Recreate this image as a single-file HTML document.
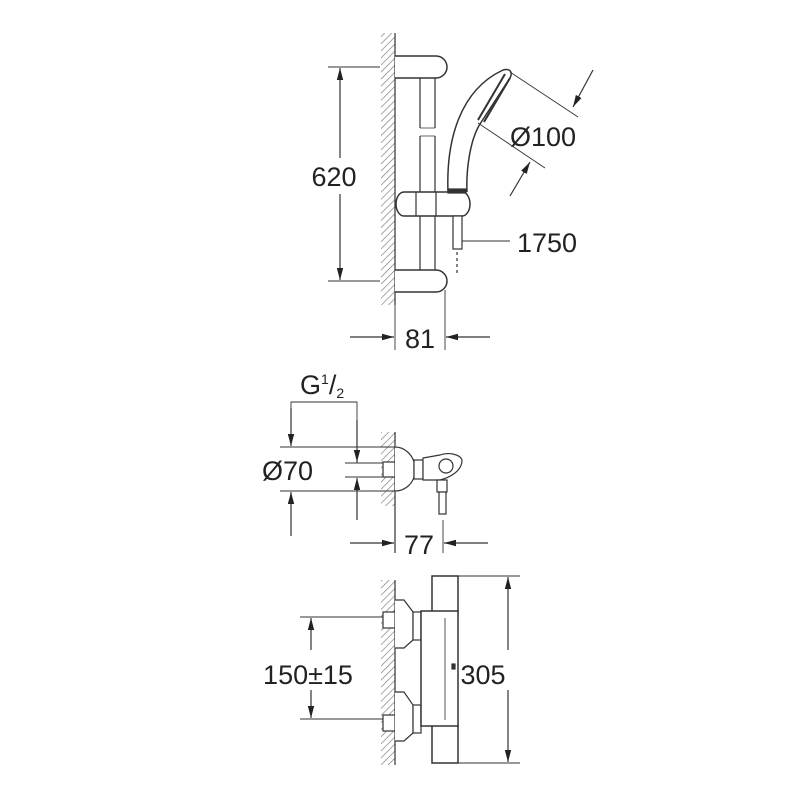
<!DOCTYPE html>
<html><head><meta charset="utf-8"><style>
html,body{margin:0;padding:0;background:#fff;width:800px;height:800px;overflow:hidden}
svg{display:block}
text{font-family:"Liberation Sans",sans-serif;fill:#222}
</style></head><body>
<svg width="800" height="800" viewBox="0 0 800 800">
<defs>
<pattern id="h" width="5" height="5" patternUnits="userSpaceOnUse" patternTransform="rotate(45)">
<line x1="0" y1="0" x2="0" y2="5" stroke="#777" stroke-width="1.3"/>
</pattern>
<marker id="a" viewBox="0 0 12 10" refX="12" refY="5" markerWidth="12" markerHeight="10" markerUnits="userSpaceOnUse" orient="auto-start-reverse">
<path d="M0,1.8 L12,5 L0,8.2 z" fill="#222"/>
</marker>
</defs>
<g stroke="#333" stroke-width="1.2" fill="none">
<!-- TOP -->
<rect x="381" y="33" width="14" height="272" fill="url(#h)" stroke="none"/>
<line x1="395" y1="33" x2="395" y2="305"/>
<path d="M395,56 H436 A11,11 0 0 1 436,78 H395" fill="#fff" stroke-width="1.5"/>
<path d="M395,270 H436 A11,11 0 0 1 436,292 H395" fill="#fff" stroke-width="1.5"/>
<line x1="420" y1="78" x2="420" y2="128"/><line x1="435" y1="78" x2="435" y2="128"/>
<line x1="420" y1="136" x2="420" y2="270"/><line x1="435" y1="136" x2="435" y2="270"/>
<path d="M420,128 H435 M420,136 H435" stroke-width="0.8"/>
<path d="M404,192 H462 A8,12 0 0 1 462,216 H404 A8,12 0 0 1 404,192 Z" fill="#fff" stroke-width="1.5"/>
<line x1="416" y1="192" x2="416" y2="216"/><line x1="436" y1="192" x2="436" y2="216"/>
<rect x="453" y="216" width="9" height="33" fill="#fff"/>
<line x1="457" y1="252" x2="457" y2="276" stroke-dasharray="3,3"/>
<path d="M448,192 C446,140 460,90 503,70 C510,68 513,72 510,78 L480,124 C470,140 466,170 467,192" fill="#fff" stroke-width="1.5"/>
<path d="M505,74 L478,120 M510,78 L484,122" stroke-width="2"/>
<rect x="448" y="189" width="18" height="4" fill="#333"/>
<line x1="510" y1="72" x2="578" y2="117" stroke-width="0.9"/>
<line x1="478" y1="123" x2="545" y2="168" stroke-width="0.9"/>
<line x1="593" y1="70" x2="573" y2="107" marker-end="url(#a)"/>
<line x1="510" y1="196" x2="530" y2="162" marker-end="url(#a)"/>
<line x1="462" y1="241" x2="510" y2="241" stroke-width="0.9"/>
<line x1="328" y1="67" x2="380" y2="67" stroke-width="0.9"/>
<line x1="328" y1="281" x2="380" y2="281" stroke-width="0.9"/>
<line x1="340" y1="158" x2="340" y2="68" marker-end="url(#a)"/>
<line x1="340" y1="194" x2="340" y2="280" marker-end="url(#a)"/>
<line x1="395" y1="305" x2="395" y2="350" stroke-width="0.9"/>
<line x1="445" y1="290" x2="445" y2="350" stroke-width="0.9"/>
<line x1="350" y1="337" x2="394" y2="337" marker-end="url(#a)"/>
<line x1="490" y1="337" x2="446" y2="337" marker-end="url(#a)"/>

<!-- MIDDLE -->
<rect x="381" y="432" width="14" height="74" fill="url(#h)" stroke="none"/>
<line x1="395" y1="432" x2="395" y2="553"/>
<rect x="383" y="462" width="12" height="15" fill="#fff"/>
<path d="M395,447 C405,447 412,455 414,462 V477 C412,484 405,491 395,491" fill="#fff"/>
<rect x="414" y="460" width="9" height="19" fill="#fff"/>
<path d="M423,458 L440,455 C448,452 460,454 462,460 C462,472 448,478 440,480 L423,480 Z" fill="#fff"/>
<circle cx="446" cy="466" r="7"/>
<rect x="437" y="480" width="10" height="12" fill="#fff"/>
<rect x="439" y="492" width="7" height="22" fill="#fff"/>
<line x1="443" y1="520" x2="443" y2="553" stroke-width="0.9"/>
<path d="M291,408 V402 H357 V463" stroke-width="0.9"/>
<line x1="357" y1="420" x2="357" y2="462" marker-end="url(#a)"/>
<line x1="357" y1="520" x2="357" y2="478" marker-end="url(#a)"/>
<line x1="345" y1="463" x2="383" y2="463" stroke-width="0.9"/>
<line x1="345" y1="477" x2="383" y2="477" stroke-width="0.9"/>
<line x1="280" y1="447" x2="395" y2="447" stroke-width="0.9"/>
<line x1="280" y1="491" x2="395" y2="491" stroke-width="0.9"/>
<line x1="291" y1="408" x2="291" y2="446" marker-end="url(#a)"/>
<line x1="291" y1="536" x2="291" y2="492" marker-end="url(#a)"/>
<line x1="350" y1="543" x2="394" y2="543" marker-end="url(#a)"/>
<line x1="488" y1="543" x2="444" y2="543" marker-end="url(#a)"/>

<!-- BOTTOM -->
<rect x="381" y="580" width="14" height="185" fill="url(#h)" stroke="none"/>
<line x1="395" y1="580" x2="395" y2="765"/>
<rect x="383" y="612" width="12" height="16" fill="#fff"/>
<rect x="383" y="715" width="12" height="16" fill="#fff"/>
<path d="M395,600 L404,600 L413,612 V640 L404,648 H395" fill="#fff"/>
<path d="M395,692 L404,692 L413,705 V733 L404,741 H395" fill="#fff"/>
<rect x="413" y="612" width="8" height="28" fill="#fff"/>
<rect x="413" y="705" width="8" height="28" fill="#fff"/>
<rect x="432" y="576" width="26" height="36" fill="#fff" stroke-width="1.5"/>
<rect x="432" y="725" width="26" height="38" fill="#fff" stroke-width="1.5"/>
<rect x="421" y="611" width="37" height="115" fill="#fff" stroke-width="1.5"/>
<line x1="445" y1="618" x2="445" y2="720" stroke="#aaa" stroke-width="2"/>
<rect x="452" y="664" width="3" height="5" fill="#333"/>
<line x1="300" y1="617" x2="383" y2="617" stroke-width="0.9"/>
<line x1="300" y1="719" x2="383" y2="719" stroke-width="0.9"/>
<line x1="311" y1="650" x2="311" y2="618" marker-end="url(#a)"/>
<line x1="311" y1="690" x2="311" y2="718" marker-end="url(#a)"/>
<line x1="458" y1="576" x2="520" y2="576" stroke-width="0.9"/>
<line x1="458" y1="763" x2="520" y2="763" stroke-width="0.9"/>
<line x1="508" y1="650" x2="508" y2="577" marker-end="url(#a)"/>
<line x1="508" y1="690" x2="508" y2="762" marker-end="url(#a)"/>
</g>
<g font-size="27">
<text x="334" y="186" text-anchor="middle">620</text>
<text x="510" y="146">Ø100</text>
<text x="517" y="252">1750</text>
<text x="420" y="348" text-anchor="middle">81</text>
<text x="300" y="394">G<tspan font-size="14" dy="-10">1</tspan><tspan dy="10">/</tspan><tspan font-size="14" dy="4">2</tspan></text>
<text x="262" y="480">Ø70</text>
<text x="419" y="554" text-anchor="middle">77</text>
<text x="308" y="684" text-anchor="middle">150±15</text>
<text x="483" y="684" text-anchor="middle">305</text>
</g>
</svg>
</body></html>
